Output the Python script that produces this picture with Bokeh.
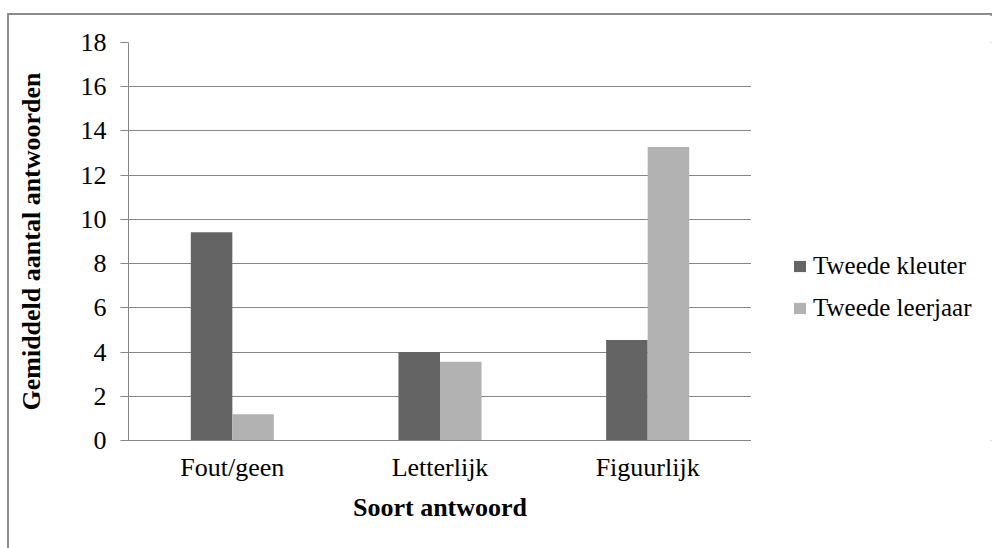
from bokeh.plotting import figure
from bokeh.layouts import row
from bokeh.models import FactorRange, Range1d, Legend, LegendItem
from bokeh.transform import dodge
from bokeh.embed import file_html
from bokeh.resources import INLINE

# Average number of answers per answer type, by school year
categories = ["Fout/geen", "Letterlijk", "Figuurlijk"]
series_names = ["Tweede kleuter", "Tweede leerjaar"]
tweede_kleuter = [9.42, 4.0, 4.55]
tweede_leerjaar = [1.19, 3.56, 13.27]
y_ticks = [0, 2, 4, 6, 8, 10, 12, 14, 16, 18]

FONT = "'Liberation Serif', 'Times New Roman', serif"
GRID = "#868686"
DARK = "#646464"
LIGHT = "#b2b2b2"
H = 536

# main chart
p = figure(
    x_range=FactorRange(*categories),
    y_range=Range1d(0, 18),
    width=742, height=H,
    output_backend="svg", toolbar_location=None,
    min_border_left=119, min_border_right=0,
    min_border_top=27, min_border_bottom=111,
)
p.outline_line_color = None
p.background_fill_color = "white"
p.border_fill_color = "white"

src = dict(cat=categories, kleuter=tweede_kleuter, leerjaar=tweede_leerjaar)
p.vbar(x=dodge("cat", -0.1, range=p.x_range), top="kleuter", width=0.2,
       source=src, fill_color=DARK, line_color=None)
p.vbar(x=dodge("cat", 0.1, range=p.x_range), top="leerjaar", width=0.2,
       source=src, fill_color=LIGHT, line_color=None)

# y axis
p.yaxis.ticker = y_ticks
p.yaxis.axis_line_color = GRID
p.yaxis.major_tick_line_color = GRID
p.yaxis.major_tick_out = 8
p.yaxis.major_tick_in = 0
p.yaxis.minor_tick_line_color = None
p.yaxis.major_label_standoff = 14
p.yaxis.major_label_text_font = FONT
p.yaxis.major_label_text_font_size = "26px"
p.yaxis.major_label_text_color = "black"
p.yaxis.axis_label = "Gemiddeld aantal antwoorden"
p.yaxis.axis_label_text_font = FONT
p.yaxis.axis_label_text_font_style = "bold"
p.yaxis.axis_label_text_font_size = "26px"
p.yaxis.axis_label_text_color = "black"
p.yaxis.axis_label_standoff = 32

# x axis
p.xaxis.axis_line_color = GRID
p.xaxis.major_tick_line_color = None
p.xaxis.major_tick_out = 0
p.xaxis.minor_tick_line_color = None
p.xaxis.major_label_standoff = 12
p.xaxis.major_label_text_font = FONT
p.xaxis.major_label_text_font_size = "26px"
p.xaxis.major_label_text_color = "black"
p.xaxis.axis_label = "Soort antwoord"
p.xaxis.axis_label_text_font = FONT
p.xaxis.axis_label_text_font_style = "bold"
p.xaxis.axis_label_text_font_size = "26px"
p.xaxis.axis_label_text_color = "black"
p.xaxis.axis_label_standoff = 8

p.xgrid.grid_line_color = None
p.ygrid.grid_line_color = GRID
p.ygrid.ticker = y_ticks

# legend panel to the right of the chart
q = figure(
    x_range=Range1d(0, 1), y_range=Range1d(0, 1),
    width=243, height=H,
    output_backend="svg", toolbar_location=None,
    min_border=0,
)
q.axis.visible = False
q.grid.visible = False
q.outline_line_color = None
q.border_fill_color = "white"
# zero-size swatch renderers that only carry the legend colours
k1 = q.vbar(x=0, top=0, width=0, fill_color=DARK, line_color=None)
k2 = q.vbar(x=0, top=0, width=0, fill_color=LIGHT, line_color=None)

legend = Legend(
    items=[LegendItem(label=series_names[0], renderers=[k1]),
           LegendItem(label=series_names[1], renderers=[k2])],
    location=(41, 118),
    label_text_font=FONT, label_text_font_size="25px", label_text_color="black",
    glyph_width=15, glyph_height=14, label_standoff=6, spacing=14,
    padding=0, margin=0, border_line_color=None, background_fill_alpha=0,
)
q.add_layout(legend, "center")

layout = row(p, q, spacing=0,
             styles={"border": "2px solid #8c8c8c", "margin-left": "7px",
                     "margin-top": "13px", "width": "985px"})

open("out.html", "w").write(file_html(layout, INLINE))
